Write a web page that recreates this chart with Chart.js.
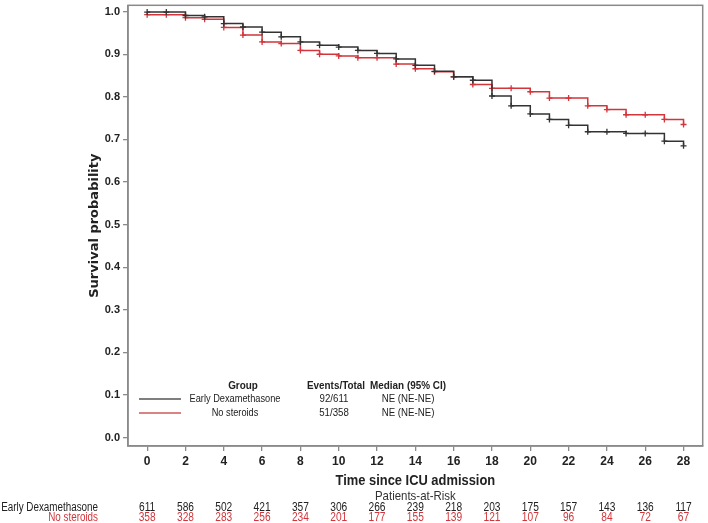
<!DOCTYPE html>
<html>
<head>
<meta charset="utf-8">
<script src="https://cdn.jsdelivr.net/npm/chart.js@4/dist/chart.umd.min.js"></script>
<style>
html,body{margin:0;padding:0;background:#fff;}
#wrap{width:708px;height:523px;position:relative;}
</style>
</head>
<body>
<div id="wrap"><canvas id="c" width="708" height="523"></canvas></div>
<script>
// ---- data ----
const days = [0,1,2,3,4,5,6,7,8,9,10,11,12,13,14,15,16,17,18,19,20,21,22,23,24,25,26,27,28];
const survEarlyDex = [0.999,0.999,0.991,0.988,0.972,0.964,0.952,0.941,0.929,0.921,0.917,0.909,0.902,0.889,0.874,0.860,0.847,0.839,0.802,0.779,0.760,0.747,0.733,0.718,0.718,0.714,0.714,0.696,0.685];
const survNoSteroids = [0.993,0.993,0.986,0.982,0.963,0.945,0.929,0.925,0.909,0.900,0.896,0.892,0.892,0.877,0.866,0.859,0.847,0.829,0.820,0.820,0.812,0.797,0.797,0.779,0.770,0.758,0.758,0.747,0.735];
const xTicks = [0,2,4,6,8,10,12,14,16,18,20,22,24,26,28];
const yTicks = [0,0.1,0.2,0.3,0.4,0.5,0.6,0.7,0.8,0.9,1.0];
const riskDays = [0,2,4,6,8,10,12,14,16,18,20,22,24,26,28];
const riskEarlyDex = [611,586,502,421,357,306,266,239,218,203,175,157,143,136,117];
const riskNoSteroids = [358,328,283,256,234,201,177,155,139,121,107,96,84,72,67];
const groupNames = ["Early Dexamethasone","No steroids"];
const eventsTotal = ["92/611","51/358"];
const medianCI = ["NE (NE-NE)","NE (NE-NE)"];

const BLACK = '#333333';
const RED = '#d2353b';
const SANS = '"Liberation Sans",Arial,sans-serif';
const WIDE = '"DejaVu Sans",Verdana,sans-serif';

function txt(ctx, s, x, y, font, align, sx, color) {
  ctx.save();
  ctx.font = font;
  ctx.fillStyle = color;
  ctx.textAlign = align;
  ctx.textBaseline = 'middle';
  ctx.translate(x, y);
  ctx.scale(sx, 1);
  ctx.fillText(s, 0, 0);
  ctx.restore();
}

const extras = {
  id: 'extras',
  afterDraw(chart) {
    const ctx = chart.ctx;
    const a = chart.chartArea;
    const xs = chart.scales.x;
    const cx = (a.left + a.right) / 2;
    ctx.save();
    // frame
    ctx.strokeStyle = '#8a8a8a';
    ctx.lineWidth = 1.5;
    ctx.strokeRect(a.left, a.top, a.right - a.left, a.bottom - a.top);
    // y title
    ctx.save();
    ctx.translate(95, (a.top + a.bottom) / 2);
    ctx.rotate(-Math.PI / 2);
    txt(ctx, 'Survival probability', 0, 0, 'bold 13px ' + WIDE, 'center', 1.0, '#222');
    ctx.restore();
    // x title
    txt(ctx, 'Time since ICU admission', cx, 481, 'bold 15px ' + SANS, 'center', 0.86, '#222');
    // patients at risk
    txt(ctx, 'Patients-at-Risk', cx, 496, '13px ' + SANS, 'center', 0.88, '#333');
    const rowY = [507.5, 518];
    const rowColor = ['#222', RED];
    const rows = [riskEarlyDex, riskNoSteroids];
    for (let r = 0; r < 2; r++) {
      txt(ctx, groupNames[r], 98, rowY[r], '12px ' + SANS, 'right', 0.82, rowColor[r]);
      for (let i = 0; i < riskDays.length; i++) {
        txt(ctx, String(rows[r][i]), xs.getPixelForValue(riskDays[i]), rowY[r], '12px ' + SANS, 'center', 0.85, rowColor[r]);
      }
    }
    // legend block
    txt(ctx, 'Group', 243, 386, 'bold 11px ' + SANS, 'center', 0.9, '#222');
    txt(ctx, 'Events/Total', 336, 386, 'bold 11px ' + SANS, 'center', 0.9, '#222');
    txt(ctx, 'Median (95% CI)', 408, 386, 'bold 11px ' + SANS, 'center', 0.9, '#222');
    const ly = [399, 413];
    const lc = ['#555', '#cf5a5a'];
    for (let r = 0; r < 2; r++) {
      ctx.strokeStyle = lc[r];
      ctx.lineWidth = 1.5;
      ctx.beginPath();
      ctx.moveTo(139, ly[r]);
      ctx.lineTo(181, ly[r]);
      ctx.stroke();
      txt(ctx, groupNames[r], 235, ly[r], '11px ' + SANS, 'center', 0.84, '#222');
      txt(ctx, eventsTotal[r], 334, ly[r], '11px ' + SANS, 'center', 0.88, '#222');
      txt(ctx, medianCI[r], 408, ly[r], '11px ' + SANS, 'center', 0.88, '#222');
    }
    ctx.restore();
  }
};

new Chart(document.getElementById('c'), {
  type: 'line',
  data: {
    datasets: [
      {
        label: groupNames[0],
        data: days.map((d, i) => ({x: d, y: survEarlyDex[i]})),
        borderColor: BLACK,
        backgroundColor: BLACK,
        borderWidth: 1.5,
        stepped: 'before',
        pointStyle: 'cross',
        pointRadius: 3,
        pointBorderWidth: 1.3,
        pointBorderColor: BLACK,
        fill: false
      },
      {
        label: groupNames[1],
        data: days.map((d, i) => ({x: d, y: survNoSteroids[i]})),
        borderColor: RED,
        backgroundColor: RED,
        borderWidth: 1.5,
        stepped: 'before',
        pointStyle: 'cross',
        pointRadius: 3,
        pointBorderWidth: 1.3,
        pointBorderColor: RED,
        fill: false
      }
    ]
  },
  options: {
    responsive: false,
    animation: false,
    devicePixelRatio: 1,
    layout: { padding: { top: -1, right: 2, left: 0, bottom: 0 } },
    plugins: { legend: { display: false }, tooltip: { enabled: false } },
    scales: {
      x: {
        type: 'linear',
        min: -1,
        max: 29,
        afterBuildTicks: s => { s.ticks = xTicks.map(v => ({value: v})); },
        afterFit: s => { s.height = 77; s.paddingLeft = 0; s.paddingRight = 0; },
        grid: { drawOnChartArea: false, drawTicks: true, tickLength: 5, color: '#8a8a8a', lineWidth: 1.3 },
        border: { display: true, color: '#8a8a8a', width: 1.5 },
        ticks: { color: '#222', font: { family: SANS, size: 12, weight: 'bold' }, padding: 3, maxRotation: 0, autoSkip: false }
      },
      y: {
        type: 'linear',
        min: -0.02,
        max: 1.015,
        afterBuildTicks: s => { s.ticks = yTicks.map(v => ({value: v})); },
        afterFit: s => { s.width = 128; s.paddingTop = 0; s.paddingBottom = 0; },
        grid: { drawOnChartArea: false, drawTicks: true, tickLength: 5, color: '#8a8a8a', lineWidth: 1.3 },
        border: { display: true, color: '#8a8a8a', width: 1.5 },
        ticks: { color: '#222', font: { family: SANS, size: 11, weight: 'bold' }, padding: 3, callback: v => Number(v).toFixed(1) }
      }
    }
  },
  plugins: [extras]
});
</script>
</body>
</html>
